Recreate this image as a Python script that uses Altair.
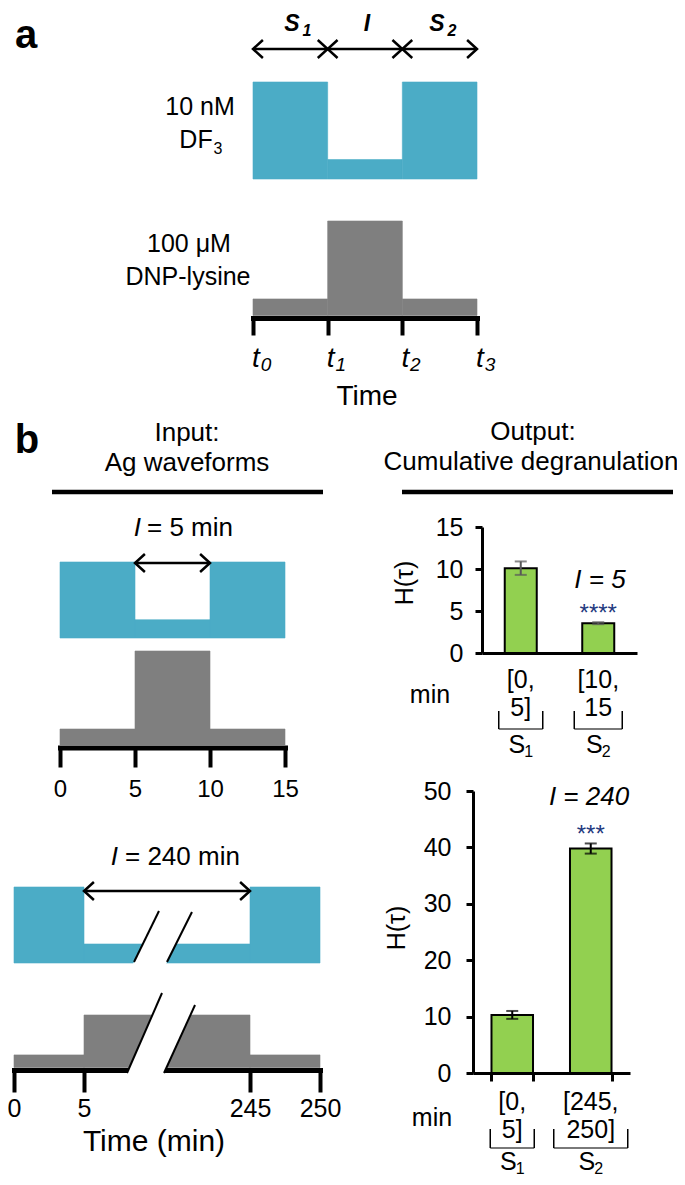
import altair as alt
import pandas as pd

FONT = "Liberation Sans"
BLUE = "#4bacc6"
GRAY = "#7f7f7f"
GREEN = "#92d050"
NAVY = "#1f3a80"
ERR_GRAY = "#595959"

W, H = 669, 1169

# ---------------- data ----------------
# panel a: schematic waveforms over t0..t3, relative concentration levels per interval
a_times = [0, 1, 2, 3]
a_subs = ["0", "1", "2", "3"]
a_df3 = [1.0, 0.2, 1.0]
a_dnp = [0.175, 1.0, 0.175]

# panel b: I = 5 min
b5_times = [0, 5, 10, 15]
b5_df3 = [1.0, 0.24, 1.0]
b5_dnp = [0.17, 1.0, 0.17]

# panel b: I = 240 min (broken time axis)
b240_times = [0, 5, 245, 250]
b240_df3 = [1.0, 0.25, 1.0]
b240_dnp = [0.24, 1.0, 0.24]
# axis-break marks, in (time, relative level)
brk_b_gap_lvl = [-0.03, 0.35]
brk_b_gap_left = [74.9, 95.4]
brk_b_gap_right = [122.7, 143.1]
brk_b_t_lo = [77.3, 125.0]
brk_b_l_lo = [0.013, 0.013]
brk_b_t_hi = [113.4, 161.1]
brk_b_l_hi = [0.684, 0.671]
brk_g_gap_lvl = [-0.12, 1.35]
brk_g_gap_left = [66.7, 115.4]
brk_g_gap_right = [120.1, 171.0]
brk_g_t_lo = [67.2, 120.7]
brk_g_l_lo = [-0.105, -0.105]
brk_g_t_hi = [117.8, 165.5]
brk_g_l_hi = [1.419, 1.19]

# output: cumulative degranulation H(tau)
windows = ["S1", "S2"]
h5_mean = [10.1, 3.55]
h5_sem = [0.8, 0.12]
h5_ticks = [0, 5, 10, 15]
h5_line1 = ["[0,", "[10,"]
h5_line2 = ["5]", "15"]
h5_sig = ["", "****"]
h240_mean = [10.3, 39.8]
h240_sem = [0.7, 0.9]
h240_ticks = [0, 10, 20, 30, 40, 50]
h240_line1 = ["[0,", "[245,"]
h240_line2 = ["5]", "250]"]
h240_sig = ["", "***"]


# ---------------- helpers ----------------
def pxx(X):
    return X - 8


def pyy(Y):
    return Y - 8


ONE = pd.DataFrame({"k": [0]})


def label(s, X, Y, size=25, align="center", baseline="middle", style="normal",
          weight="normal", angle=None, color="black"):
    props = dict(text=s, font=FONT, fontSize=size, align=align, baseline=baseline,
                 fontStyle=style, fontWeight=weight, color=color)
    if angle is not None:
        props["angle"] = angle
    return alt.Chart(ONE).mark_text(**props).encode(
        x=alt.value(pxx(X)), y=alt.value(pyy(Y)))


def hrule(X1, X2, Y, w):
    return alt.Chart(ONE).mark_rule(color="black", strokeWidth=w).encode(
        x=alt.value(pxx(X1)), x2=alt.value(pxx(X2)), y=alt.value(pyy(Y)))


def qscale(domain, rng):
    return alt.Scale(domain=domain, range=rng, nice=False, zero=False)


def time_axis(times, Yline, tick_len, show_labels, label_size=24, label_pad=10):
    return alt.Axis(orient="bottom", offset=pyy(Yline) - H, values=times, labels=show_labels,
                    labelFontSize=label_size, labelFont=FONT, labelColor="black",
                    labelPadding=label_pad, labelFlush=False, labelOverlap=False,
                    domainWidth=5, domainColor="black", domainCap="square",
                    tickWidth=4, tickColor="black", tickSize=tick_len, grid=False,
                    title=None, format="d")


def wave(times, levels, color, xs, ys, xa=None):
    df = pd.DataFrame({"start": times[:-1], "end": times[1:], "level": levels,
                       "base": [0.0] * len(levels)})
    return alt.Chart(df).mark_rect(color=color, stroke=color, strokeWidth=0.6).encode(
        x=alt.X("start:Q", scale=xs, axis=xa), x2="end:Q",
        y=alt.Y("level:Q", scale=ys, axis=None), y2="base:Q")


HEAD_R = "M -1.1 -1 L 0 0 L -1.1 1"
HEAD_L = "M 1.1 -1 L 0 0 L 1.1 1"


def arrows(starts, ends, xs, Y, sw=2.5, size=324):
    df = pd.DataFrame({"s": starts, "e": ends})
    yv = alt.value(pyy(Y))
    shaft = alt.Chart(df).mark_rule(color="black", strokeWidth=sw).encode(
        x=alt.X("s:Q", scale=xs, axis=None), x2="e:Q", y=yv)
    lh = alt.Chart(df).mark_point(shape=HEAD_L, filled=False, color="black", strokeWidth=sw,
                                  size=size, opacity=1).encode(
        x=alt.X("s:Q", scale=xs, axis=None), y=yv)
    rh = alt.Chart(df).mark_point(shape=HEAD_R, filled=False, color="black", strokeWidth=sw,
                                  size=size, opacity=1).encode(
        x=alt.X("e:Q", scale=xs, axis=None), y=yv)
    return [shaft, lh, rh]


def gap(lvls, left, right, xs, ys, xa=None):
    df = pd.DataFrame({"lvl": lvls, "l": left, "r": right})
    return alt.Chart(df).mark_area(color="white", orient="horizontal", opacity=1).encode(
        y=alt.Y("lvl:Q", scale=ys, axis=None),
        x=alt.X("l:Q", scale=xs, axis=xa, stack=None), x2="r:Q")


def slashes(t_lo, l_lo, t_hi, l_hi, xs, ys, xa=None):
    df = pd.DataFrame({"t0": t_lo, "l0": l_lo, "t1": t_hi, "l1": l_hi})
    return alt.Chart(df).mark_rule(color="black", strokeWidth=2).encode(
        x=alt.X("t0:Q", scale=xs, axis=xa), y=alt.Y("l0:Q", scale=ys, axis=None),
        x2="t1:Q", y2="l1:Q")


def bar_panel(means, sems, ticks, ymax, x_rng, pin, pout, y_rng, xaxis_Y, yaxis_X,
              err_color, x_ticks, lab_pad, line1, line2, l1_Y, l2_Y, sig,
              br_top, br_bot, br_hw, s_Y):
    df = pd.DataFrame({"win": windows, "h": means,
                       "lo": [m - e for m, e in zip(means, sems)],
                       "hi": [m + e for m, e in zip(means, sems)],
                       "l1": line1, "l2": line2, "sig": sig,
                       "S": ["S", "S"], "sub": ["1", "2"]})
    xs = alt.Scale(domain=windows, range=x_rng, paddingInner=pin, paddingOuter=pout)
    ys = alt.Scale(domain=[0, ymax], range=y_rng, nice=False, zero=True)
    xax = alt.Axis(orient="bottom", offset=pyy(xaxis_Y) - H, labels=False, ticks=x_ticks,
                   tickBand="extent", domainColor="black", domainWidth=3,
                   tickColor="black", tickWidth=3, tickSize=8, title=None, grid=False)
    yax = alt.Axis(orient="left", offset=-pxx(yaxis_X), values=ticks, labelFontSize=25,
                   labelFont=FONT, labelColor="black", labelPadding=lab_pad,
                   domainColor="black", domainWidth=3, tickColor="black", tickWidth=3,
                   tickSize=7, title=None, grid=False, labelFlush=False)
    xn = alt.X("win:N", scale=xs, axis=xax)
    yn = lambda f: alt.Y(f, scale=ys, axis=yax)
    parts = []
    parts.append(alt.Chart(df).mark_bar(fill=GREEN, stroke="black", strokeWidth=2).encode(
        x=xn, y=yn("h:Q")))
    parts.append(alt.Chart(df).mark_rule(color=err_color, strokeWidth=2).encode(
        x=xn, y=yn("lo:Q"), y2="hi:Q"))
    for f in ["lo:Q", "hi:Q"]:
        parts.append(alt.Chart(df).mark_tick(color=err_color, thickness=2, size=12,
                                             orient="horizontal").encode(x=xn, y=yn(f)))
    parts.append(alt.Chart(df).mark_text(font=FONT, fontSize=24, color=NAVY,
                                         baseline="alphabetic", dy=-1).encode(
        x=xn, y=yn("hi:Q"), text="sig:N"))
    parts.append(alt.Chart(df).mark_text(font=FONT, fontSize=25, baseline="middle").encode(
        x=xn, y=alt.value(pyy(l1_Y)), text="l1:N"))
    parts.append(alt.Chart(df).mark_text(font=FONT, fontSize=25, baseline="middle").encode(
        x=xn, y=alt.value(pyy(l2_Y)), text="l2:N"))
    for i, w in enumerate(windows):
        d = pd.DataFrame({"win": [w]})
        hw = br_hw[i]
        for off in (-hw, hw):
            parts.append(alt.Chart(d).mark_rule(color="black", strokeWidth=1.5, xOffset=off).encode(
                x=xn, y=alt.value(pyy(br_top)), y2=alt.value(pyy(br_bot))))
        parts.append(alt.Chart(d).mark_tick(color="black", thickness=1.5, size=2 * hw,
                                            orient="horizontal").encode(
            x=xn, y=alt.value(pyy(br_bot))))
    parts.append(alt.Chart(df).mark_text(font=FONT, fontSize=25, baseline="middle", dx=-4).encode(
        x=xn, y=alt.value(pyy(s_Y)), text="S:N"))
    parts.append(alt.Chart(df).mark_text(font=FONT, fontSize=16, baseline="middle", dx=8).encode(
        x=xn, y=alt.value(pyy(s_Y + 7)), text="sub:N"))
    return alt.layer(*parts)


layers = []

# ---------------- panel a ----------------
a_xs = qscale([0, 3], [pxx(253), pxx(477)])
a_yb = qscale([0, 1], [pyy(179), pyy(82)])
a_yg = qscale([0, 1], [pyy(315.5), pyy(221)])
a_ax = time_axis(a_times, 318, 17, False)

layers.append(alt.layer(wave(a_times, a_df3, BLUE, a_xs, a_yb),
                        *arrows(a_times[:-1], a_times[1:], a_xs, 49)))
tdf = pd.DataFrame({"t": a_times, "main": ["t"] * 4, "sub": a_subs})
t_main = alt.Chart(tdf).mark_text(font=FONT, fontSize=28, fontStyle="italic",
                                  baseline="alphabetic", dx=3).encode(
    x=alt.X("t:Q", scale=a_xs, axis=a_ax), y=alt.value(pyy(367)), text="main:N")
t_sub = alt.Chart(tdf).mark_text(font=FONT, fontSize=19, fontStyle="italic",
                                 baseline="alphabetic", dx=13).encode(
    x=alt.X("t:Q", scale=a_xs, axis=a_ax), y=alt.value(pyy(371)), text="sub:N")
layers.append(alt.layer(wave(a_times, a_dnp, GRAY, a_xs, a_yg, a_ax), t_main, t_sub))

layers += [
    label("a", 26, 48, size=40, weight="bold", baseline="alphabetic"),
    label("S", 292, 24, size=23, style="italic", weight="bold"),
    label("1", 307, 31, size=16, style="italic", weight="bold"),
    label("I", 367, 24, size=23, style="italic", weight="bold"),
    label("S", 437, 24, size=23, style="italic", weight="bold"),
    label("2", 452, 31, size=16, style="italic", weight="bold"),
    label("10 nM", 200, 107),
    label("DF", 196, 140),
    label("3", 218, 149, size=16),
    label("100 \u03bcM", 189, 244),
    label("DNP-lysine", 188, 277),
    label("Time", 367, 405, size=28, baseline="alphabetic"),
]

# ---------------- panel b headers ----------------
layers += [
    label("b", 27, 453, size=40, weight="bold", baseline="alphabetic"),
    label("Input:", 187, 433, size=26),
    label("Ag waveforms", 187, 463, size=26),
    label("Output:", 533, 432, size=26),
    label("Cumulative degranulation", 531, 462, size=26),
    hrule(52, 323, 492, 4.5),
    hrule(402, 673, 492, 4.5),
]

# ---------------- panel b, I = 5 ----------------
b5_xs = qscale([0, 15], [pxx(60), pxx(285)])
b5_yb = qscale([0, 1], [pyy(638), pyy(562)])
b5_yg = qscale([0, 1], [pyy(745), pyy(651)])
b5_ax = time_axis(b5_times, 747.5, 19.5, True, 24, 10)
layers.append(alt.layer(wave(b5_times, b5_df3, BLUE, b5_xs, b5_yb),
                        *arrows([b5_times[1]], [b5_times[2]], b5_xs, 563)))
layers.append(wave(b5_times, b5_dnp, GRAY, b5_xs, b5_yg, b5_ax))
layers += [
    label("I", 141, 528, size=26, style="italic", align="right"),
    label("= 5 min", 147, 528, size=26, align="left"),
]

# ---------------- panel b, I = 240 ----------------
b240_xs = qscale(b240_times, [pxx(14), pxx(84), pxx(250), pxx(320)])
b240_yb = qscale([0, 1], [pyy(963), pyy(887)])
b240_yg = qscale([0, 1], [pyy(1067.5), pyy(1015)])
b240_ax = time_axis(b240_times, 1070, 22, True, 25, 4)
layers.append(alt.layer(
    wave(b240_times, b240_df3, BLUE, b240_xs, b240_yb),
    gap(brk_b_gap_lvl, brk_b_gap_left, brk_b_gap_right, b240_xs, b240_yb),
    slashes(brk_b_t_lo, brk_b_l_lo, brk_b_t_hi, brk_b_l_hi, b240_xs, b240_yb),
    *arrows([b240_times[1]], [b240_times[2]], b240_xs, 891)))
layers.append(alt.layer(
    wave(b240_times, b240_dnp, GRAY, b240_xs, b240_yg, b240_ax),
    gap(brk_g_gap_lvl, brk_g_gap_left, brk_g_gap_right, b240_xs, b240_yg, b240_ax),
    slashes(brk_g_t_lo, brk_g_l_lo, brk_g_t_hi, brk_g_l_hi, b240_xs, b240_yg, b240_ax)))
layers += [
    label("I", 118, 857, size=26, style="italic", align="right"),
    label("= 240 min", 125, 857, size=26, align="left"),
    label("Time (min)", 154, 1142, size=30),
]

# ---------------- bar charts ----------------
layers.append(bar_panel(h5_mean, h5_sem, h5_ticks, 15, [pxx(482), pxx(637)], 0.587, 0.2935,
                        [pyy(653), pyy(527)], 653, 482, ERR_GRAY, False, 12,
                        h5_line1, h5_line2, 680, 708, h5_sig, 711, 729, [22, 24], 745))
layers.append(bar_panel(h240_mean, h240_sem, h240_ticks, 50, [pxx(473), pxx(630)], 0.471, 0.2355,
                        [pyy(1073), pyy(791)], 1073, 473, "black", True, 15,
                        h240_line1, h240_line2, 1102, 1130, h240_sig, 1129, 1148, [22, 37], 1162))
layers += [
    label("H(\u03c4)", 405, 583, size=25, angle=270),
    label("I = 5", 600, 580, size=26, style="italic"),
    label("min", 430, 695),
    label("H(\u03c4)", 397, 928, size=25, angle=270),
    label("I = 240", 589, 797, size=26, style="italic"),
    label("min", 432, 1118),
]

chart = alt.layer(*layers).resolve_scale(x="independent", y="independent").properties(
    width=W, height=H, autosize=alt.AutoSizeParams(type="none"), padding=0
).configure_view(stroke=None).configure_axis(grid=False)

chart.save("out.html", embed_options={"renderer": "svg", "actions": False})
